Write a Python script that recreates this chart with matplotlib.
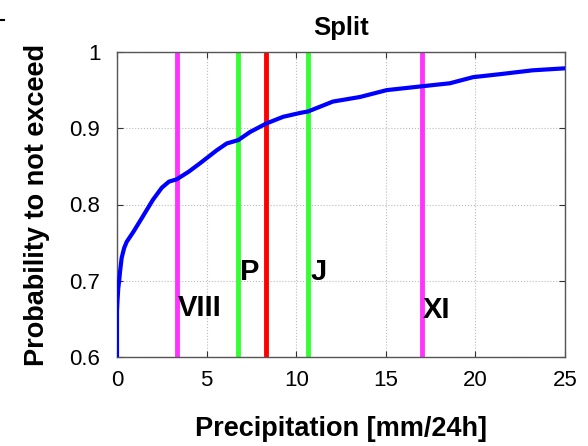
import matplotlib
matplotlib.use('Agg')
import matplotlib.pyplot as plt
from matplotlib.lines import Line2D

plt.rcParams['font.family'] = ['Liberation Sans', 'DejaVu Sans']

precip = [0.0, 0.0, 0.03, 0.07, 0.12, 0.17, 0.26, 0.4, 0.54, 0.91, 1.38, 2.0, 2.5, 2.9, 3.33,
          4.0, 4.63, 5.56, 6.12, 6.77, 7.42, 8.31, 9.27, 10.2, 10.66, 12.05,
          13.56, 15.05, 17.0, 18.58, 19.87, 21.4, 23.2, 25.0]
prob = [0.6, 0.66, 0.675, 0.69, 0.70, 0.712, 0.73, 0.743, 0.751, 0.764, 0.782, 0.806, 0.822, 0.830,
        0.833, 0.843, 0.854, 0.871, 0.880, 0.8845, 0.895, 0.906, 0.915, 0.920,
        0.922, 0.935, 0.941, 0.950, 0.955, 0.959, 0.967, 0.971, 0.976, 0.9786]

# reference thresholds
month_x = [3.33, 17.0]
month_labels = ['VIII', 'XI']
month_label_y = [0.664, 0.661]
pj_x = [6.77, 10.68]
pj_labels = ['P', 'J']
pj_label_y = [0.712, 0.712]
red_x = 8.31

fig = plt.figure(figsize=(5.88, 4.46), dpi=100)
ax = fig.add_axes([117 / 588, 1 - 357 / 446, 448 / 588, 305 / 446])

for x in month_x:
    ax.axvline(x, color='#ff33ff', lw=3.5, zorder=2)
for x in pj_x:
    ax.axvline(x, color='#33ff33', lw=3.5, zorder=2)
ax.axvline(red_x, color='#ff0000', lw=3.5, zorder=2)

ax.plot(precip, prob, color='#0000ff', lw=3, zorder=3)

for x, lab, y in zip(month_x, month_labels, month_label_y):
    ax.text(x + 0.05, y, lab, fontsize=21, fontweight='bold', va='center', ha='left', zorder=4)
for x, lab, y in zip(pj_x, pj_labels, pj_label_y):
    ax.text(x + 0.12, y, lab, fontsize=21, fontweight='bold', va='center', ha='left', zorder=4)

ax.set_xlim(0, 25)
ax.set_ylim(0.6, 1.0)
ax.set_xticks([0, 5, 10, 15, 20, 25])
ax.set_yticks([0.6, 0.7, 0.8, 0.9, 1.0])
ax.set_yticklabels(['0.6', '0.7', '0.8', '0.9', '1'])
ax.tick_params(direction='in', top=True, right=True, labelsize=16, length=4, color='#333333')
ax.tick_params(axis='x', pad=9)
ax.tick_params(axis='y', pad=12)
ax.grid(True, color='#bbbbbb', linestyle=':', lw=0.8)
for s in ax.spines.values():
    s.set_color('#555555')
    s.set_linewidth(1)

ax.set_title('Split', fontsize=18.5, fontweight='bold', pad=12)
ax.set_xlabel('Precipitation [mm/24h]', fontsize=19.5, fontweight='bold', labelpad=18)
ax.set_ylabel('Probability to not exceed', fontsize=19.5, fontweight='bold', labelpad=14)

# small stray dash in the top-left corner
fig.add_artist(Line2D([0, 4 / 588], [1 - 20 / 446, 1 - 20 / 446], color='black', lw=1.5))

fig.savefig('out.png', dpi=100)
